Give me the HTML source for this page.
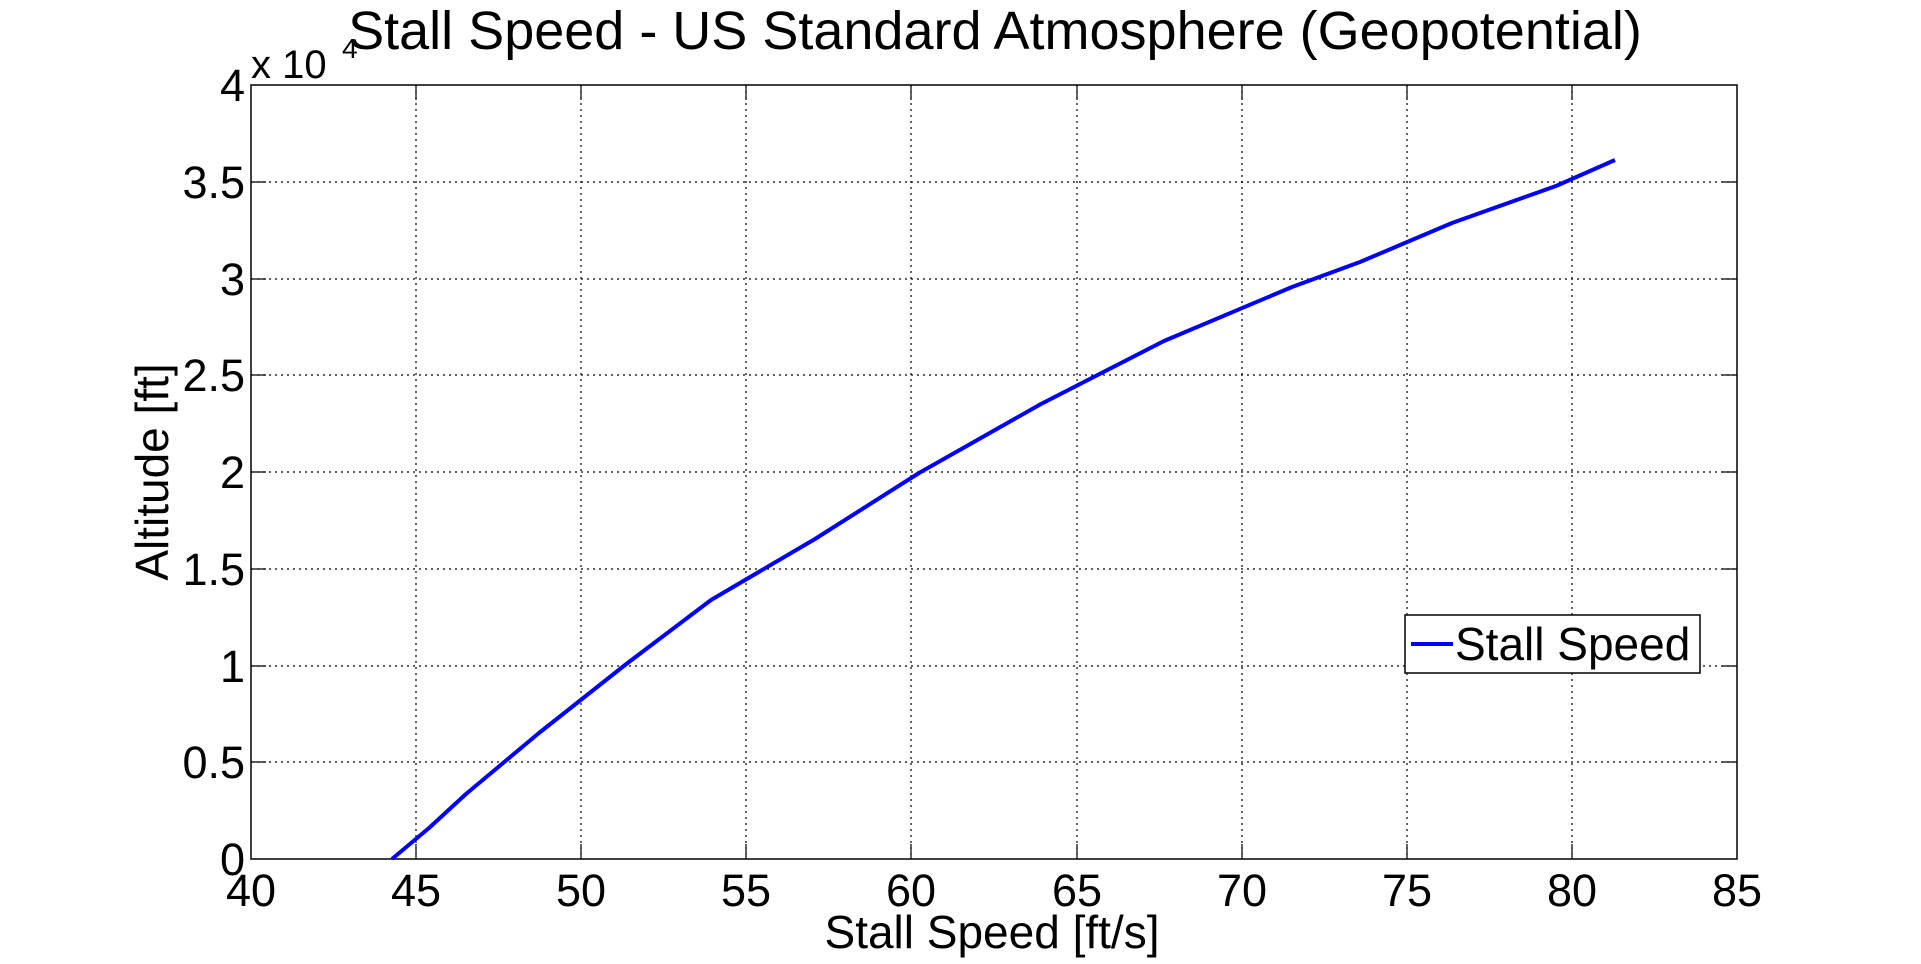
<!DOCTYPE html>
<html><head><style>body{margin:0;background:#fff}svg{display:block}text{font-family:"Liberation Sans",sans-serif;fill:#000}</style></head><body>
<svg width="1921" height="964" viewBox="0 0 1921 964">
<rect width="1921" height="964" fill="#fff"/>
<g stroke="#000" stroke-width="1.2" stroke-dasharray="2,4">
<line x1="416" y1="85" x2="416" y2="859"/><line x1="581" y1="85" x2="581" y2="859"/><line x1="746" y1="85" x2="746" y2="859"/><line x1="911" y1="85" x2="911" y2="859"/><line x1="1077" y1="85" x2="1077" y2="859"/><line x1="1242" y1="85" x2="1242" y2="859"/><line x1="1407" y1="85" x2="1407" y2="859"/><line x1="1572" y1="85" x2="1572" y2="859"/>
<line x1="251" y1="182" x2="1737" y2="182"/><line x1="251" y1="279" x2="1737" y2="279"/><line x1="251" y1="375" x2="1737" y2="375"/><line x1="251" y1="472" x2="1737" y2="472"/><line x1="251" y1="569" x2="1737" y2="569"/><line x1="251" y1="666" x2="1737" y2="666"/><line x1="251" y1="762" x2="1737" y2="762"/>
</g>
<g stroke="#000" stroke-width="1.2">
<path d="M416 859v-15M581 859v-15M746 859v-15M911 859v-15M1077 859v-15M1242 859v-15M1407 859v-15M1572 859v-15M416 85v15M581 85v15M746 85v15M911 85v15M1077 85v15M1242 85v15M1407 85v15M1572 85v15"/>
<path d="M251 182h15M251 279h15M251 375h15M251 472h15M251 569h15M251 666h15M251 762h15M1737 182h-15M1737 279h-15M1737 375h-15M1737 472h-15M1737 569h-15M1737 666h-15M1737 762h-15"/>
</g>
<rect x="251" y="85" width="1486" height="774" fill="none" stroke="#000" stroke-width="1.5"/>
<polyline fill="none" stroke="#0000ff" stroke-width="4" stroke-linejoin="round" points="392,859 429,828 466,794 539,733 625,665 711,600 815,539 919,473 1041,404 1164,341 1292,287 1360,262 1452,223 1556,186 1615,160"/>
<g font-size="45" text-anchor="middle">
<text x="251" y="906">40</text><text x="416" y="906">45</text><text x="581" y="906">50</text><text x="746" y="906">55</text><text x="911" y="906">60</text><text x="1077" y="906">65</text><text x="1242" y="906">70</text><text x="1407" y="906">75</text><text x="1572" y="906">80</text><text x="1737" y="906">85</text>
</g>
<g font-size="45" text-anchor="end">
<text x="245" y="875">0</text><text x="245" y="778">0.5</text><text x="245" y="682">1</text><text x="245" y="585">1.5</text><text x="245" y="488">2</text><text x="245" y="391">2.5</text><text x="245" y="295">3</text><text x="245" y="198">3.5</text><text x="245" y="101">4</text>
</g>
<text x="251" y="78" font-size="40">x 10</text><text x="342" y="58" font-size="28">4</text>
<text x="995" y="49" font-size="54" text-anchor="middle">Stall Speed - US Standard Atmosphere (Geopotential)</text>
<text x="992" y="948" font-size="46" text-anchor="middle">Stall Speed [ft/s]</text>
<text transform="translate(168,472) rotate(-90)" font-size="46" text-anchor="middle">Altitude [ft]</text>
<rect x="1405" y="615" width="295" height="58" fill="#fff" stroke="#000" stroke-width="1.5"/>
<line x1="1411" y1="644" x2="1453" y2="644" stroke="#0000ff" stroke-width="4"/>
<text x="1455" y="660" font-size="46">Stall Speed</text>
</svg>
</body></html>
